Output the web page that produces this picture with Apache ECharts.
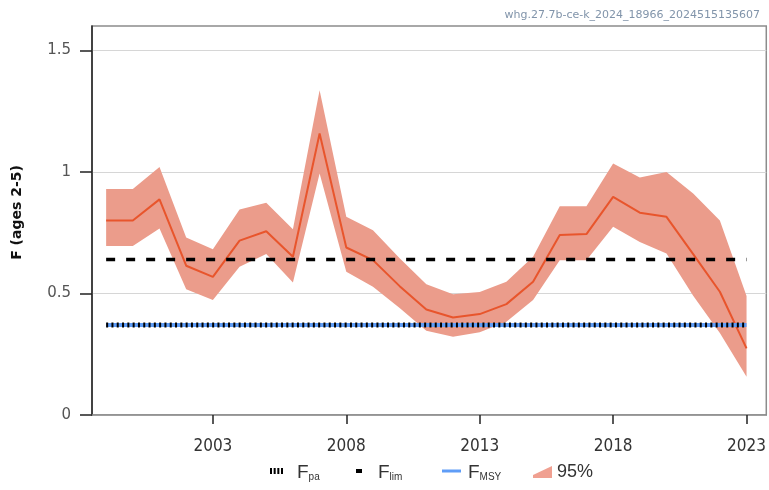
<!DOCTYPE html>
<html>
<head>
<meta charset="utf-8">
<script src="https://cdn.jsdelivr.net/npm/echarts@6/dist/echarts.min.js"></script>
<style>html,body{margin:0;padding:0;background:#fff;}#c{width:769px;height:490px;}</style>
</head>
<body>
<div id="c"></div>
<script>
const years = [1999,2000,2001,2002,2003,2004,2005,2006,2007,2008,2009,2010,2011,2012,2013,2014,2015,2016,2017,2018,2019,2020,2021,2022,2023];
const fMedian = [0.80,0.80,0.887,0.614,0.568,0.717,0.756,0.651,1.158,0.689,0.637,0.53,0.434,0.401,0.415,0.456,0.548,0.74,0.744,0.897,0.832,0.815,0.662,0.507,0.274];
const fUpper = [0.93,0.93,1.02,0.73,0.682,0.845,0.873,0.764,1.336,0.815,0.76,0.645,0.538,0.497,0.506,0.548,0.651,0.859,0.859,1.034,0.977,1.0,0.911,0.80,0.489];
const fLower = [0.695,0.695,0.767,0.517,0.473,0.61,0.662,0.545,0.993,0.589,0.527,0.44,0.347,0.322,0.34,0.384,0.473,0.637,0.637,0.774,0.712,0.664,0.49,0.337,0.157];
const refYears = [1999, 2023];
const Fpa = 0.37;
const Flim = 0.64;
const Fmsy = 0.37;
const xTicks = [2003, 2008, 2013, 2018, 2023];
const yTicks = [0, 0.5, 1, 1.5];
const watermark = 'whg.27.7b-ce-k_2024_18966_2024515135607';

const chart = echarts.init(document.getElementById('c'));
const bandColor = '#eb9c8b';
const subRich = {
  f: {fontSize: 19, fontFamily: 'Liberation Sans', color: '#333', verticalAlign: 'bottom', lineHeight: 22},
  s: {fontSize: 10, fontFamily: 'Liberation Sans', color: '#333', verticalAlign: 'bottom', lineHeight: 19},
  t: {fontSize: 18, fontFamily: 'Liberation Sans', color: '#333', lineHeight: 22}
};
function legendFor(name, left, w, h, icon, color, pad, fmt) {
  return {
    data: [name], left: left, top: 463, itemWidth: w, itemHeight: h, icon: icon,
    selectedMode: false, padding: 0,
    itemStyle: {color: color, borderWidth: 0},
    lineStyle: {width: 0},
    textStyle: {rich: subRich, padding: [0, 0, 0, pad]},
    formatter: () => fmt
  };
}
const option = {
  animation: false,
  backgroundColor: '#fff',
  title: {
    text: watermark, right: 4, top: 5,
    textStyle: {fontSize: 11, fontWeight: 'normal', color: '#8194aa', fontFamily: 'DejaVu Sans'}
  },
  grid: {left: 92, right: 1, top: 26, bottom: 75, show: true, borderColor: '#8c8c8c', borderWidth: 1.5, backgroundColor: 'transparent'},
  legend: [
    legendFor('Fpa', 270, 13, 6, 'path://M0,0h2v6h-2zM3.67,0h2v6h-2zM7.33,0h2v6h-2zM11,0h2v6h-2z', '#000', 9, '{f|F}{s|pa}'),
    legendFor('Flim', 356, 6, 4, 'rect', '#000', 11, '{f|F}{s|lim}'),
    legendFor('FMSY', 442, 19, 3, 'rect', '#5f9df7', 2, '{f|F}{s|MSY}'),
    legendFor('95%', 533, 19, 12, 'path://M0,9L19,0L19,12L0,12Z', '#f0a091', 0, '{t|95%}')
  ],
  xAxis: {
    type: 'value', min: 1998.47, max: 2023.74,
    axisLine: {show: true, lineStyle: {color: '#8c8c8c', width: 1.5}},
    axisTick: {show: true, customValues: xTicks, length: 9, lineStyle: {color: '#222', width: 1.5}},
    axisLabel: {customValues: xTicks, margin: 23, fontSize: 17, color: '#333', formatter: v => String(v),
      fontFamily: "'DejaVu Sans Condensed', 'Liberation Sans Narrow', sans-serif"},
    splitLine: {show: false}
  },
  yAxis: {
    type: 'value', min: 0, max: 1.6, interval: 0.5,
    name: 'F (ages 2-5)', nameLocation: 'middle', nameGap: 68,
    nameTextStyle: {fontSize: 14, fontWeight: 'bold', color: '#111', fontFamily: 'DejaVu Sans', padding: [0, 0, 0, 16]},
    axisLine: {show: true, lineStyle: {color: '#222', width: 1.5}},
    axisTick: {show: true, customValues: yTicks, length: 12, lineStyle: {color: '#222', width: 1.5}},
    axisLabel: {customValues: yTicks, margin: 21, fontSize: 15, color: '#555', fontFamily: 'DejaVu Sans'},
    splitLine: {show: true, lineStyle: {color: '#d6d6d6', width: 1.2}}
  },
  series: [
    {
      name: '95%', type: 'custom', z: 1,
      itemStyle: {color: bandColor},
      data: years.map((y, i) => [y, fLower[i], fUpper[i]]),
      encode: {x: 0, y: [1, 2]},
      renderItem: function (params, api) {
        if (params.dataIndex !== 0) return null;
        const pts = [];
        for (let i = 0; i < years.length; i++) pts.push(api.coord([years[i], fUpper[i]]));
        for (let i = years.length - 1; i >= 0; i--) pts.push(api.coord([years[i], fLower[i]]));
        return {type: 'polygon', shape: {points: pts}, style: {fill: bandColor}};
      }
    },
    {
      name: 'F', type: 'line', z: 2, showSymbol: false, symbol: 'none',
      data: years.map((y, i) => [y, fMedian[i]]),
      lineStyle: {color: '#e8552c', width: 2}
    },
    {
      name: 'Flim', type: 'line', z: 3, showSymbol: false, symbol: 'none',
      data: refYears.map(y => [y, Flim]),
      itemStyle: {color: '#000'},
      lineStyle: {color: '#000', width: 3.5, type: [9, 11]}
    },
    {
      name: 'FMSY', type: 'line', z: 3, showSymbol: false, symbol: 'none',
      data: refYears.map(y => [y, Fmsy]),
      itemStyle: {color: '#5f9df7'},
      lineStyle: {color: '#5f9df7', width: 4}
    },
    {
      name: 'Fpa', type: 'line', z: 4, showSymbol: false, symbol: 'none',
      data: refYears.map(y => [y, Fpa]),
      itemStyle: {color: '#000'},
      lineStyle: {color: '#000', width: 5, type: [2, 3.3]}
    }
  ]
};
chart.setOption(option);
</script>
</body>
</html>
